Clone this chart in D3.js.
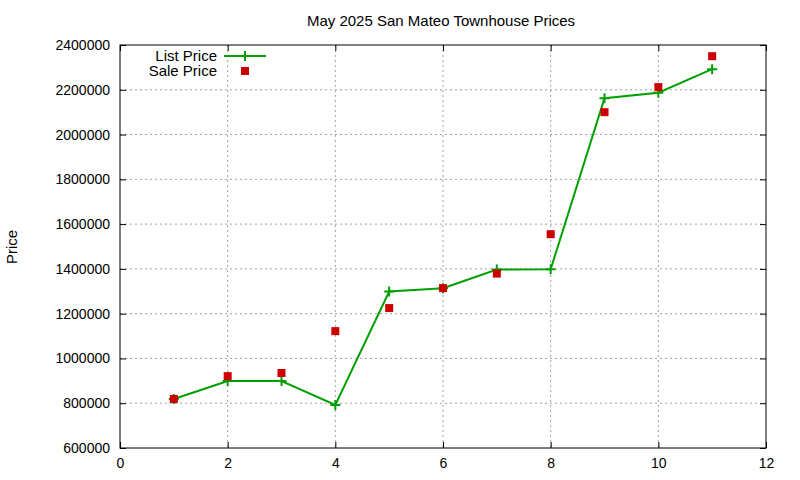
<!DOCTYPE html>
<html><head><meta charset="utf-8">
<script src="https://cdn.jsdelivr.net/npm/d3@7"></script>
<style>body{margin:0;background:#fff}svg{font-family:"Liberation Sans",Arial,sans-serif}</style>
</head><body>
<svg id="chart" width="800" height="480"></svg>
<script>
// data
const months = [1, 2, 3, 4, 5, 6, 7, 8, 9, 10, 11];
const listPrice = [819000, 899000, 899000, 792000, 1299000, 1314000, 1397000, 1398000, 2162000, 2187000, 2292000];
const salePrice = [819000, 921000, 935000, 1122000, 1225000, 1314000, 1379000, 1555000, 2100000, 2212000, 2350000];
const xTicks = [0, 2, 4, 6, 8, 10, 12];
const yTicks = d3.range(600000, 2400001, 200000);

const svg = d3.select('#chart');
const pLeft = 120, pRight = 766, pTop = 45, pBottom = 448;
const x = d3.scaleLinear().domain([0, 12]).range([pLeft, pRight]);
const y = d3.scaleLinear().domain([600000, 2400000]).range([pBottom, pTop]);
const green = '#00a000', red = '#cc0000';

// grid
svg.append('g').selectAll('line').data(xTicks.slice(1, -1)).join('line')
  .attr('x1', d => x(d)).attr('x2', d => x(d)).attr('y1', pTop).attr('y2', pBottom)
  .attr('stroke', '#a0a0a0').attr('stroke-dasharray', '2,3');
svg.append('g').selectAll('line').data(yTicks.slice(1, -1)).join('line')
  .attr('x1', pLeft).attr('x2', pRight).attr('y1', d => y(d)).attr('y2', d => y(d))
  .attr('stroke', '#a0a0a0').attr('stroke-dasharray', '2,3');

// axes
const fmt = d3.format('d');
svg.append('g').attr('transform', `translate(0,${pBottom})`)
  .call(d3.axisBottom(x).tickValues(xTicks).tickSize(-6).tickPadding(10))
  .call(g => g.select('.domain').remove());
svg.append('g').attr('transform', `translate(0,${pTop})`)
  .call(d3.axisTop(x).tickValues(xTicks).tickSize(-6).tickFormat(''))
  .call(g => g.select('.domain').remove());
svg.append('g').attr('transform', `translate(${pLeft},0)`)
  .call(d3.axisLeft(y).tickValues(yTicks).tickFormat(fmt).tickSize(-6).tickPadding(10))
  .call(g => g.select('.domain').remove());
svg.append('g').attr('transform', `translate(${pRight},0)`)
  .call(d3.axisRight(y).tickValues(yTicks).tickFormat('').tickSize(-6))
  .call(g => g.select('.domain').remove());
svg.selectAll('.tick text').attr('font-size', 14).attr('fill', '#000').attr('font-family', '"Liberation Sans",Arial,sans-serif');
svg.selectAll('.tick line').attr('stroke', '#000');
svg.append('rect').attr('x', pLeft).attr('y', pTop).attr('width', pRight - pLeft).attr('height', pBottom - pTop)
  .attr('fill', 'none').attr('stroke', '#000');

// list price line
const pts = months.map((m, i) => [m, listPrice[i]]);
svg.append('path').datum(pts)
  .attr('d', d3.line().x(d => x(d[0])).y(d => y(d[1])))
  .attr('fill', 'none').attr('stroke', green).attr('stroke-width', 2);
function plus(g, cx, cy) {
  g.append('path').attr('d', `M${cx - 5},${cy}H${cx + 5}M${cx},${cy - 5}V${cy + 5}`)
    .attr('stroke', green).attr('stroke-width', 2);
}
pts.forEach(d => plus(svg, x(d[0]), y(d[1])));

// sale price squares
svg.append('g').selectAll('rect').data(months).join('rect')
  .attr('x', (d) => x(d) - 4).attr('y', (d, i) => y(salePrice[i]) - 4)
  .attr('width', 8).attr('height', 8).attr('fill', red);

// legend
svg.append('text').attr('x', 217).attr('y', 61).attr('text-anchor', 'end').attr('font-size', 15).text('List Price');
svg.append('line').attr('x1', 224).attr('x2', 266).attr('y1', 56).attr('y2', 56).attr('stroke', green).attr('stroke-width', 2);
plus(svg, 245, 56);
svg.append('text').attr('x', 217).attr('y', 76).attr('text-anchor', 'end').attr('font-size', 15).text('Sale Price');
svg.append('rect').attr('x', 241).attr('y', 67).attr('width', 8).attr('height', 8).attr('fill', red);

// title and label
svg.append('text').attr('x', 441).attr('y', 26).attr('text-anchor', 'middle').attr('font-size', 15)
  .text('May 2025 San Mateo Townhouse Prices');
svg.append('text').attr('transform', 'translate(17,247) rotate(-90)').attr('text-anchor', 'middle')
  .attr('font-size', 15).text('Price');
</script>
</body></html>
